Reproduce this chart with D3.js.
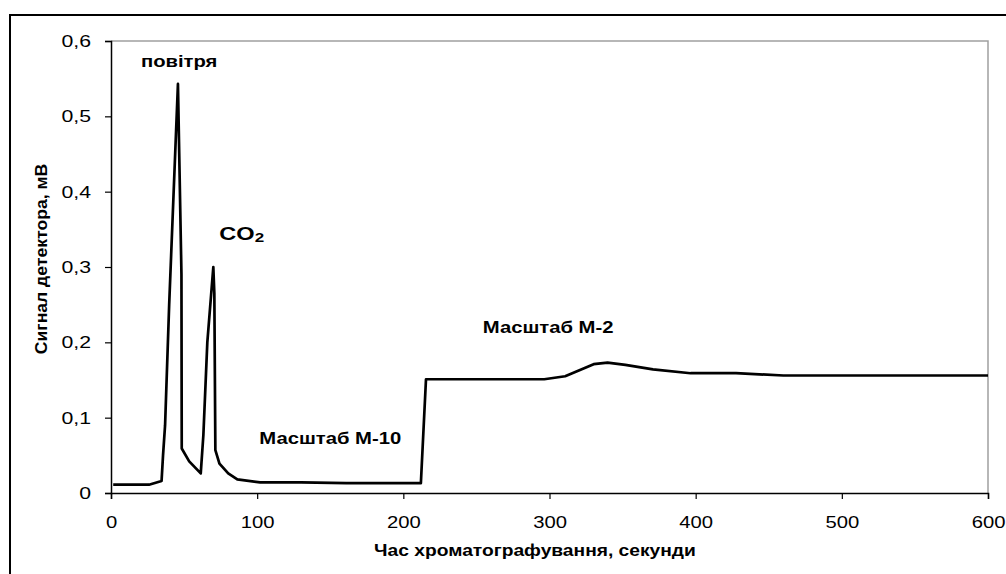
<!DOCTYPE html>
<html>
<head>
<meta charset="utf-8">
<script src="https://cdn.jsdelivr.net/npm/d3@7"></script>
<style>
  html, body { margin: 0; padding: 0; background: #fff; }
  svg { display: block; }
  text { font-family: "Liberation Sans", Arial, sans-serif; fill: #000; }
</style>
</head>
<body>
<svg id="chart" width="1006" height="574"></svg>
<script>
// Data
const timeSec = [1.5, 26, 34.6, 35.6, 37.0, 39.8, 45.8, 48.2, 48.4, 53.5, 61.4,
  63.2, 65.9, 70.0, 70.7, 71.4, 74.2, 80.2, 86.4, 102, 130, 161, 212,
  215.5, 296.4, 310.7, 330.2, 339.7, 351.9, 370.8, 396.5, 427.6, 460, 600];
const signalMv = [0.011, 0.011, 0.016, 0.05, 0.09, 0.25, 0.543, 0.29, 0.059, 0.042, 0.026,
  0.077, 0.2, 0.30, 0.265, 0.057, 0.039, 0.026, 0.018, 0.014, 0.014, 0.013, 0.013,
  0.151, 0.151, 0.155, 0.171, 0.173, 0.170, 0.164, 0.159, 0.159, 0.156, 0.156];
const xTicks = [0, 100, 200, 300, 400, 500, 600];
const yTicks = [0, 0.1, 0.2, 0.3, 0.4, 0.5, 0.6];
const yTickLabels = ["0", "0,1", "0,2", "0,3", "0,4", "0,5", "0,6"];
const xTitle = "Час хроматографування, секунди";
const yTitle = "Сигнал детектора, мВ";
const annotationText = ["повітря", "Масштаб М-10", "Масштаб М-2"];
const annotationTime = [20.5, 101.5, 254.4];
const annotationSignal = [0.5655, 0.0646, 0.212];

const svg = d3.select("#chart");
const plot = { left: 111, top: 41, right: 988, bottom: 493 };

// widen glyphs to mimic the reference's wide font rendering
function stretch(sel, factor) {
  sel.each(function () {
    const w = this.getComputedTextLength();
    d3.select(this).attr("textLength", w * factor).attr("lengthAdjust", "spacingAndGlyphs");
  });
}

// outer frame
svg.append("rect").attr("x", 10).attr("y", 15).attr("width", 1100).attr("height", 700)
  .attr("fill", "none").attr("stroke", "#000").attr("stroke-width", 2);

const x = d3.scaleLinear().domain([0, 600]).range([plot.left, plot.right]);
const y = d3.scaleLinear().domain([0, 0.6]).range([plot.bottom, plot.top]);

// plot area border (gray top/right)
svg.append("path")
  .attr("d", `M${plot.left},${plot.top}H${plot.right}V${plot.bottom}`)
  .attr("fill", "none").attr("stroke", "#a0a0a0").attr("stroke-width", 1.5);

const xAxis = svg.append("g").attr("transform", `translate(0,${plot.bottom})`)
  .call(d3.axisBottom(x).tickValues(xTicks).tickSize(6).tickPadding(17).tickFormat(d3.format("d")));
const yAxis = svg.append("g").attr("transform", `translate(${plot.left},0)`)
  .call(d3.axisLeft(y).tickValues(yTicks).tickSize(6).tickPadding(14).tickFormat((d, i) => yTickLabels[i]));
[xAxis, yAxis].forEach(g => {
  g.select(".domain").attr("stroke", "#000").attr("stroke-width", 1.5);
  g.selectAll(".tick line").attr("stroke", "#000").attr("stroke-width", 1.2);
  g.selectAll(".tick text").attr("font-family", "Liberation Sans, Arial, sans-serif")
    .attr("font-size", 17).attr("fill", "#000");
});
stretch(xAxis.selectAll(".tick text"), 1.19);
stretch(yAxis.selectAll(".tick text"), 1.25);

// signal line
const pts = timeSec.map((t, i) => [t, signalMv[i]]);
svg.append("path").datum(pts)
  .attr("fill", "none").attr("stroke", "#000").attr("stroke-width", 2.7)
  .attr("stroke-linejoin", "round")
  .attr("d", d3.line().x(d => x(d[0])).y(d => y(d[1])));

// annotations
annotationText.forEach((txt, i) => {
  const t = svg.append("text").attr("x", x(annotationTime[i])).attr("y", y(annotationSignal[i]))
    .attr("font-size", 17).attr("font-weight", "bold").text(txt);
  stretch(t, 1.19);
});
const co2 = svg.append("text").attr("x", x(74.1)).attr("y", y(0.336))
  .attr("font-size", 18).attr("font-weight", "bold");
co2.append("tspan").text("CO");
co2.append("tspan").attr("font-size", 13).attr("dy", 2).text("2");
stretch(co2, 1.31);

// axis titles
const xt = svg.append("text").attr("x", 535).attr("y", 556)
  .attr("text-anchor", "middle").attr("font-size", 16).attr("font-weight", "bold").text(xTitle);
stretch(xt, 1.2);
const yt = svg.append("text").attr("transform", `translate(47,259) rotate(-90)`)
  .attr("text-anchor", "middle").attr("font-size", 16).attr("font-weight", "bold").text(yTitle);
stretch(yt, 1.1);
</script>
</body>
</html>
